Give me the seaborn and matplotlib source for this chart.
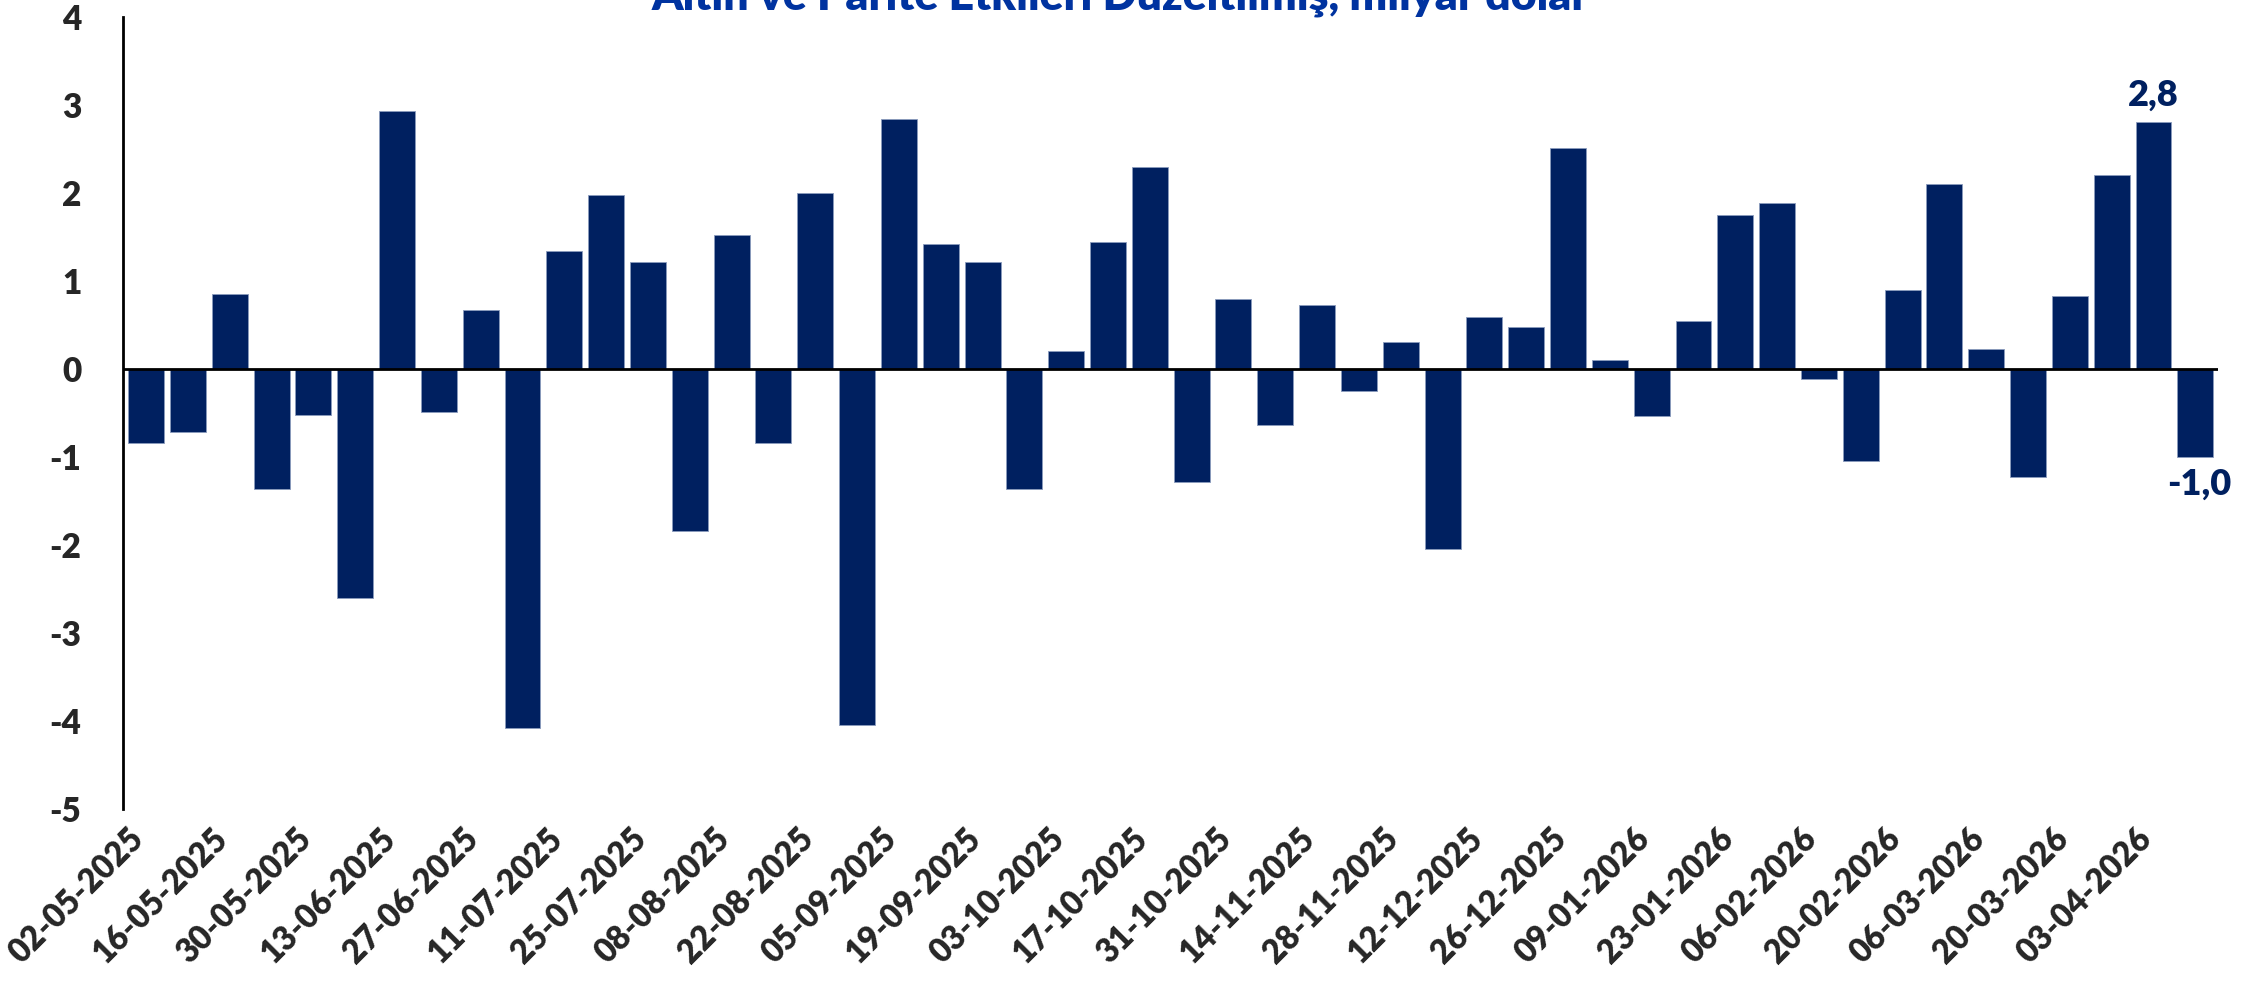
import matplotlib
matplotlib.use("Agg")
import matplotlib.pyplot as plt
import matplotlib.transforms as mtransforms
import pandas as pd
import seaborn as sns

TITLE = "Altın ve Parite Etkileri Düzeltilmiş, milyar dolar"

dates = [
    "02-05-2025", "09-05-2025", "16-05-2025", "23-05-2025", "30-05-2025",
    "06-06-2025", "13-06-2025", "20-06-2025", "27-06-2025", "04-07-2025",
    "11-07-2025", "18-07-2025", "25-07-2025", "01-08-2025", "08-08-2025",
    "15-08-2025", "22-08-2025", "29-08-2025", "05-09-2025", "12-09-2025",
    "19-09-2025", "26-09-2025", "03-10-2025", "10-10-2025", "17-10-2025",
    "24-10-2025", "31-10-2025", "07-11-2025", "14-11-2025", "21-11-2025",
    "28-11-2025", "05-12-2025", "12-12-2025", "19-12-2025", "26-12-2025",
    "02-01-2026", "09-01-2026", "16-01-2026", "23-01-2026", "30-01-2026",
    "06-02-2026", "13-02-2026", "20-02-2026", "27-02-2026", "06-03-2026",
    "13-03-2026", "20-03-2026", "27-03-2026", "03-04-2026", "10-04-2026",
]
values = [
    -0.84, -0.72, 0.85, -1.36, -0.52, -2.60, 2.93, -0.49, 0.67, -4.08,
    1.34, 1.98, 1.21, -1.84, 1.52, -0.84, 2.00, -4.05, 2.84, 1.42,
    1.21, -1.36, 0.20, 1.44, 2.29, -1.28, 0.79, -0.64, 0.72, -0.25,
    0.31, -2.05, 0.59, 0.48, 2.51, 0.10, -0.53, 0.54, 1.75, 1.88,
    -0.11, -1.05, 0.90, 2.10, 0.23, -1.23, 0.83, 2.20, 2.80, -1.00,
]
y_ticks = [4, 3, 2, 1, 0, -1, -2, -3, -4, -5]
annotated = {"03-04-2026": "2,8", "10-04-2026": "-1,0"}

NAVY = "#002060"

sns.set_theme(style="white")
plt.rcParams["font.family"] = ["Lato", "DejaVu Sans"]

df = pd.DataFrame({"date": dates, "value": values})

fig = plt.figure(figsize=(22.59, 9.83), dpi=100)
ax = fig.add_axes([0.0545, 0.177, 0.9275, 0.806])

sns.barplot(data=df, x="date", y="value", order=dates, color=NAVY,
            saturation=1, width=0.86, edgecolor="#8a9bbd", linewidth=0.6, ax=ax)

ax.set_xlim(-0.55, len(dates) - 0.45)
ax.set_ylim(min(y_ticks), max(y_ticks))
ax.set_yticks(y_ticks)
ax.set_yticklabels([str(t) for t in y_ticks], fontsize=24, fontweight="heavy")
ax.axhline(0, color="black", linewidth=2)

for s in ["top", "right", "bottom"]:
    ax.spines[s].set_visible(False)
ax.spines["left"].set_color("black")
ax.spines["left"].set_linewidth(2)
ax.tick_params(axis="y", length=0, pad=30)
ax.tick_params(axis="x", length=0, pad=6)
ax.set_xlabel("")
ax.set_ylabel("")

tick_pos = list(range(0, len(dates), 2))
ax.set_xticks(tick_pos)
ax.set_xticklabels([dates[i] for i in tick_pos], rotation=45, ha="right",
                   va="center", rotation_mode="anchor", fontsize=23.5,
                   fontweight="heavy")
offset = mtransforms.ScaledTranslation(-0.07, -0.16, fig.dpi_scale_trans)
for lbl in ax.get_xticklabels():
    lbl.set_transform(lbl.get_transform() + offset)

for i, d in enumerate(dates):
    if d in annotated:
        v = values[i]
        if v >= 0:
            ax.text(i, v + 0.12, annotated[d], ha="center", va="bottom",
                    fontsize=26, fontweight="heavy", color=NAVY)
        else:
            ax.text(i + 0.1, v - 0.12, annotated[d], ha="center", va="top",
                    fontsize=26, fontweight="heavy", color=NAVY)

fig.text(0.496, 1.003, TITLE, ha="center", va="center", fontsize=32,
         fontweight="heavy", color="#0033A0")

fig.savefig("out.png", dpi=100)
